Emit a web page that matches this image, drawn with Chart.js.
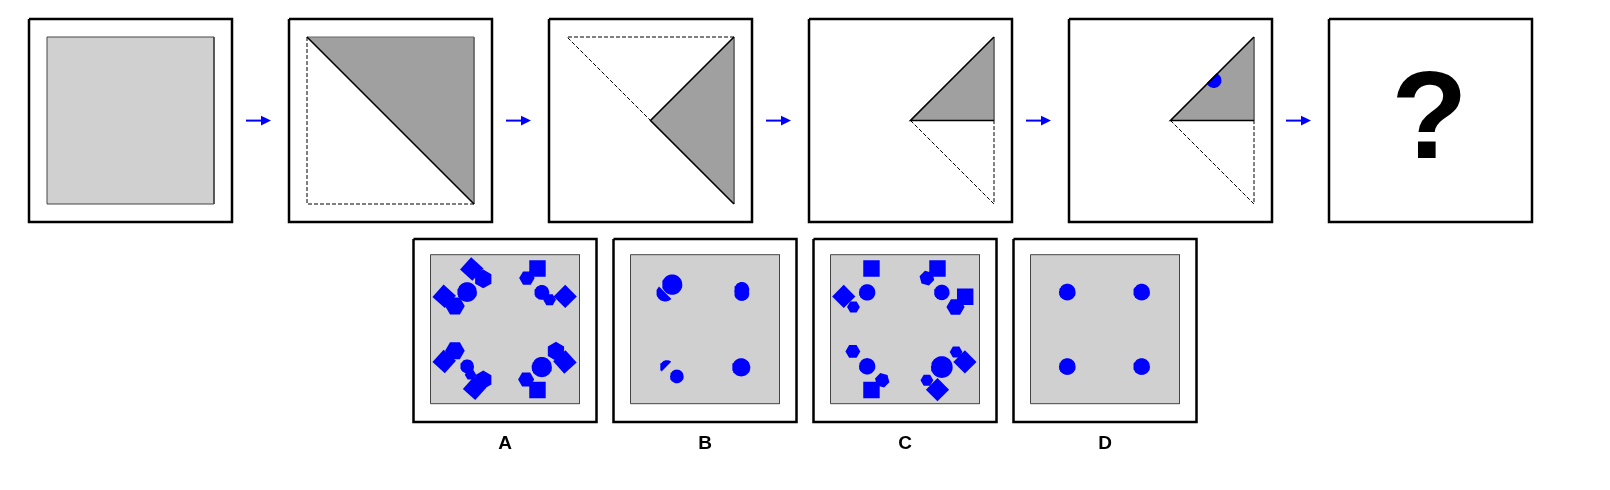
<!DOCTYPE html>
<html>
<head>
<meta charset="utf-8">
<script src="https://cdn.jsdelivr.net/npm/chart.js@4.4.1/dist/chart.umd.min.js"></script>
<style>
    html, body { margin: 0; padding: 0; background: #fff; }
    #wrap { width: 1610px; height: 490px; }
</style>
</head>
<body>
<div id="wrap"><canvas id="puzzle"></canvas></div>
<script>
// fold sequence, in sheet units (0..1, y down)
const sheet = [[0, 0], [1, 0], [1, 1], [0, 1]];
const foldedLayer = [
    null,
    [[0, 0], [1, 0], [1, 1]],
    [[0.5, 0.5], [1, 0], [1, 1]],
    [[0.5, 0.5], [1, 0], [1, 0.5]],
    [[0.5, 0.5], [1, 0], [1, 0.5]],
    null,
];
const creaseLines = [
    null,
    [[0, 0], [1, 1]],
    [[1, 0], [0.5, 0.5], [1, 1]],
    [[1, 0], [0.5, 0.5], [1, 0.5]],
    [[1, 0], [0.5, 0.5], [1, 0.5]],
    null,
];
const ghostLines = [
    null,
    [[0, 0], [0, 1], [1, 1]],
    [[1, 0], [0, 0], [0.5, 0.5]],
    [[0.5, 0.5], [1, 1], [1, 0.5]],
    [[0.5, 0.5], [1, 1], [1, 0.5]],
    null,
];
// hole punched in step 5: centre, radius, cut by the fold edge
const punchHole = [0.760, 0.260, 0.045, -0.7071, -0.7071, 0.42];
const questionMark = '?';

// answer options, shapes in % of the option sheet
// ['circle', x, y, r] ['square', x, y, halfDiag, rot] ['hex', x, y, r, rot] ['cut', x, y, r, nx, ny, d]
const optionLabels = ['A', 'B', 'C', 'D'];
const optionA = [
    ['circle', 24.6, 25.1, 6.6],
    ['square', 27.7, 9.6, 7.9, 42],
    ['hex', 35.4, 16.3, 6.3, 30],
    ['square', 9.2, 27.9, 7.9, 42],
    ['hex', 16.4, 34.4, 6.6, 0],
    ['square', 71.8, 9.2, 7.8, 0],
    ['hex', 64.7, 15.7, 5.2, 0],
    ['circle', 74.7, 25.3, 5],
    ['hex', 79.9, 30.2, 4.3, 0],
    ['square', 90.4, 28, 7.8, 45],
    ['hex', 16.4, 64.4, 6.6, 0],
    ['square', 9.2, 71.6, 7.9, 42],
    ['circle', 24.6, 74.9, 4.6],
    ['hex', 26.8, 80.5, 3.8, 0],
    ['hex', 35.4, 84, 6.3, 30],
    ['square', 29.6, 89.7, 7.9, 42],
    ['circle', 74.7, 75.4, 6.8],
    ['hex', 84.2, 64.8, 6.3, 30],
    ['square', 90.2, 72, 7.9, 48],
    ['hex', 64.2, 83.7, 5.4, 0],
    ['square', 71.8, 90.8, 7.8, 0],
];
const optionB = [
    ['circle', 28, 20.1, 6.8],
    ['cut', 23.3, 25.5, 5.9, 0.7071, -0.7071, 0],
    ['circle', 74.7, 23.3, 5],
    ['circle', 74.7, 26, 5],
    ['cut', 24.4, 75.4, 4.6, 0.7071, 0.7071, -0.1],
    ['circle', 31.1, 81.7, 4.6],
    ['circle', 74.3, 75.6, 6.1],
];
const optionC = [
    ['square', 27.5, 9.2, 7.8, 0],
    ['circle', 24.6, 25.3, 5.5],
    ['square', 8.9, 28, 7.8, 45],
    ['hex', 15.4, 35.1, 4.3, 0],
    ['square', 71.8, 9.2, 7.8, 0],
    ['hex', 64.7, 15.7, 5.1, 15],
    ['circle', 74.7, 25.3, 5.2],
    ['square', 90.4, 28.2, 7.8, 0],
    ['hex', 83.9, 35.1, 6.1, 0],
    ['hex', 15, 64.9, 5, 0],
    ['circle', 24.6, 74.9, 5.5],
    ['hex', 34.7, 84.3, 5, 15],
    ['square', 27.5, 90.8, 7.8, 0],
    ['circle', 74.7, 75.4, 7.3],
    ['hex', 84.3, 65.3, 4.3, 0],
    ['square', 90.2, 72, 7.8, 45],
    ['hex', 64.7, 84.3, 4.3, 0],
    ['square', 71.8, 90.6, 7.8, 45],
];
const optionD = [
    ['circle', 24.7, 25.1, 5.6],
    ['circle', 74.6, 25.1, 5.6],
    ['circle', 24.7, 75.1, 5.6],
    ['circle', 74.6, 75.1, 5.6],
];
const optionShapes = [optionA, optionB, optionC, optionD];

// layout (px)
const PANEL_X0 = 29, PANEL_PITCH = 260, PANEL_Y = 19, PANEL_SIZE = 203, SHEET_INSET = 18;
const OPTION_X0 = 413.5, OPTION_PITCH = 200, OPTION_Y = 239, OPTION_SIZE = 183;
const OPTION_INSET_X = 17, OPTION_INSET_Y = 15.7;
const ARROW_Y = 120.6;
const BLUE = '#0000ff', LIGHT = '#d0d0d0', DARK = '#a0a0a0';

function regular(cx, cy, r, n, rotDeg) {
    const pts = [];
    for (let k = 0; k < n; k++) {
        const a = (rotDeg + k * 360 / n) * Math.PI / 180;
        pts.push([cx + r * Math.cos(a), cy + r * Math.sin(a)]);
    }
    return pts;
}

function cutCircle(cx, cy, r, nx, ny, d) {
    const ring = regular(cx, cy, r, 60, 0);
    const side = (p) => (p[0] - cx) * nx + (p[1] - cy) * ny - d * r;
    const out = [];
    for (let i = 0; i < ring.length; i++) {
        const a = ring[i], b = ring[(i + 1) % ring.length];
        const fa = side(a), fb = side(b);
        if (fa <= 0) out.push(a);
        if ((fa <= 0) !== (fb <= 0)) {
            const t = fa / (fa - fb);
            out.push([a[0] + (b[0] - a[0]) * t, a[1] + (b[1] - a[1]) * t]);
        }
    }
    return out;
}

function shapePoints(s) {
    if (s[0] === 'circle') return regular(s[1], s[2], s[3], 48, 0);
    if (s[0] === 'square') return regular(s[1], s[2], s[3], 4, s[4] + 45);
    if (s[0] === 'hex') return regular(s[1], s[2], s[3], 6, s[4]);
    return cutCircle(s[1], s[2], s[3], s[4], s[5], s[6]);
}

const datasets = [];

function addPath(pts, style, closed) {
    const path = closed ? pts.concat([pts[0]]) : pts;
    datasets.push(Object.assign({
        data: path.map(([x, y]) => ({ x, y })),
        showLine: true,
        pointRadius: 0,
        tension: 0,
        borderWidth: 0,
        borderColor: 'rgba(0,0,0,0)',
        fill: false,
    }, style));
}

function box(x, y, w, h) {
    return [[x, y], [x + w, y], [x + w, y + h], [x, y + h]];
}

// top row: folding steps
const sheetSize = PANEL_SIZE - 2 * SHEET_INSET;
for (let i = 0; i < 6; i++) {
    const left = PANEL_X0 + i * PANEL_PITCH;
    const toPx = ([u, v]) => [left + SHEET_INSET + u * sheetSize, PANEL_Y + SHEET_INSET + v * sheetSize];

    addPath(box(left, PANEL_Y, PANEL_SIZE, PANEL_SIZE), { backgroundColor: '#fff', fill: 'shape' }, true);
    if (i === 0) {
        addPath(sheet.map(toPx), { backgroundColor: LIGHT, fill: 'shape', borderColor: '#444', borderWidth: 1 }, true);
    }
    if (foldedLayer[i]) {
        addPath(foldedLayer[i].map(toPx), { backgroundColor: DARK, fill: 'shape', borderColor: '#666', borderWidth: 1 }, true);
    }
    if (i === 4) {
        const [u, v, r, nx, ny, d] = punchHole;
        addPath(cutCircle(u, v, r, nx, ny, d).map(toPx), { backgroundColor: BLUE, fill: 'shape' }, true);
    }
    if (ghostLines[i]) {
        addPath(ghostLines[i].map(toPx), { borderColor: '#000', borderWidth: 1, borderDash: [4, 2] }, false);
    }
    if (creaseLines[i]) {
        addPath(creaseLines[i].map(toPx), { borderColor: '#000', borderWidth: 1.6 }, false);
    }
    addPath(box(left, PANEL_Y, PANEL_SIZE, PANEL_SIZE), { borderColor: '#000', borderWidth: 2.5 }, true);

    if (i < 5) {
        const x0 = left + PANEL_SIZE + 14, x1 = x0 + 25;
        addPath([[x0, ARROW_Y], [x1 - 8, ARROW_Y]], { borderColor: BLUE, borderWidth: 2 }, false);
        addPath([[x1 - 10, ARROW_Y - 4.8], [x1, ARROW_Y], [x1 - 10, ARROW_Y + 4.8]], { backgroundColor: BLUE, fill: 'shape' }, true);
    }
}

// bottom row: answer options
const optW = OPTION_SIZE - 2 * OPTION_INSET_X;
optionShapes.forEach((shapes, i) => {
    const left = OPTION_X0 + i * OPTION_PITCH;
    const toPx = ([u, v]) => [left + OPTION_INSET_X + u / 100 * optW, OPTION_Y + OPTION_INSET_Y + v / 100 * optW];

    addPath(box(left, OPTION_Y, OPTION_SIZE, OPTION_SIZE), { backgroundColor: '#fff', fill: 'shape' }, true);
    addPath(sheet.map(([u, v]) => toPx([u * 100, v * 100])), { backgroundColor: LIGHT, fill: 'shape', borderColor: '#444', borderWidth: 1 }, true);
    shapes.forEach((s) => {
        addPath(shapePoints(s).map(toPx), { backgroundColor: BLUE, fill: 'shape' }, true);
    });
    addPath(box(left, OPTION_Y, OPTION_SIZE, OPTION_SIZE), { borderColor: '#000', borderWidth: 2.5 }, true);
});

// first dataset painted first
datasets.forEach((d, i) => { d.order = datasets.length - i; });

const puzzleText = {
    id: 'puzzleText',
    afterDatasetsDraw(chart) {
        const { ctx, scales: { x, y } } = chart;
        ctx.save();
        ctx.fillStyle = '#000';
        ctx.textAlign = 'center';
        ctx.textBaseline = 'alphabetic';
        ctx.font = 'bold 125px "Liberation Sans", Arial, sans-serif';
        const qx = PANEL_X0 + 5 * PANEL_PITCH + PANEL_SIZE / 2 - 1;
        ctx.fillText(questionMark, x.getPixelForValue(qx), y.getPixelForValue(157.7));
        ctx.font = 'bold 19px "Liberation Sans", Arial, sans-serif';
        optionLabels.forEach((label, i) => {
            const lx = OPTION_X0 + i * OPTION_PITCH + OPTION_SIZE / 2;
            ctx.fillText(label, x.getPixelForValue(lx), y.getPixelForValue(449));
        });
        ctx.restore();
    },
};

new Chart(document.getElementById('puzzle'), {
    type: 'scatter',
    data: { datasets },
    options: {
        responsive: true,
        maintainAspectRatio: false,
        animation: false,
        events: [],
        layout: { padding: 0 },
        plugins: { legend: { display: false }, tooltip: { enabled: false } },
        scales: {
            x: { type: 'linear', min: 0, max: 1610, display: false },
            y: { type: 'linear', min: 0, max: 490, reverse: true, display: false },
        },
    },
    plugins: [puzzleText],
});
</script>
</body>
</html>
